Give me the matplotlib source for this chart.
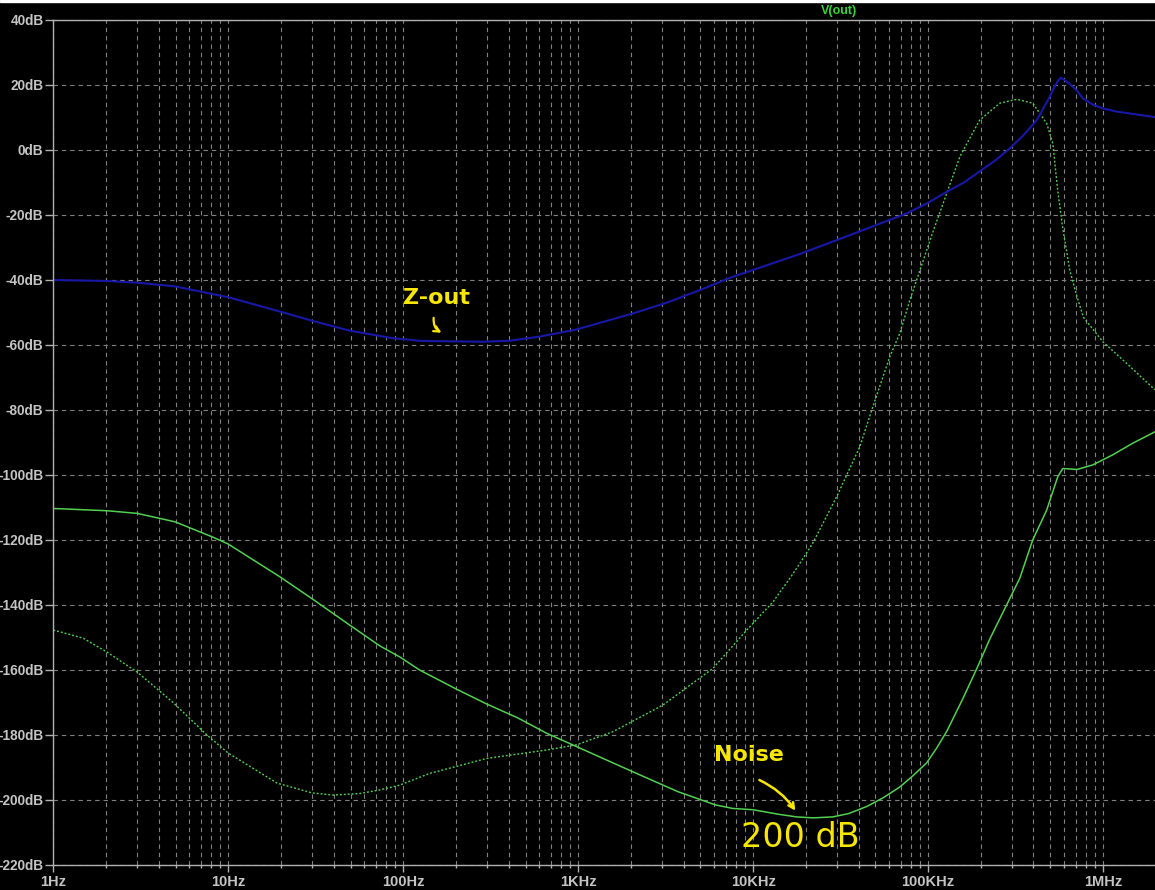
import numpy as np
import matplotlib.pyplot as plt
from matplotlib.patches import Rectangle

# Z-out trace (blue)
zout_f = [1, 2, 3, 5, 10, 19.7, 30, 49.5, 87, 124, 148, 285, 406, 604, 982,
          2.05e3, 3.2e3, 4.96e3, 7.65e3, 1e4, 1.85e4, 3.57e4, 7.55e4, 9.96e4,
          1.21e5, 1.6e5, 1.97e5, 2.45e5, 2.93e5, 3.5e5, 4.18e5, 4.96e5, 5.2e5,
          5.5e5, 5.73e5, 6e5, 6.45e5, 7.08e5, 7.66e5, 8.7e5, 9.97e5, 1.2e6,
          1.48e6, 1.98e6]
zout_db = [-40, -40.3, -40.8, -42, -45.3, -49.7, -52.5, -55.6, -57.9, -58.7,
           -58.8, -59, -58.7, -57.4, -55.2, -50.3, -47, -43.1, -39, -36.9,
           -32, -26.2, -19.5, -16.3, -13.6, -10, -6.6, -3, 0.5, 4.5, 9.2, 16.4,
           18.8, 21.2, 22.2, 21.6, 20.3, 18.3, 15.9, 14, 12.8, 11.8, 11.1, 10.1]

# noise trace (green, solid)
noise_f = [1, 2.03, 3.01, 4.96, 8.07, 9.96, 19.7, 30, 49.5, 73.6, 95.7, 124,
           200, 301, 450, 662, 982, 2.05e3, 3.7e3, 6.07e3, 7.65e3, 1e4, 1.4e4,
           1.77e4, 2.2e4, 2.85e4, 3.5e4, 4.46e4, 5.5e4, 6.89e4, 8.2e4, 9.8e4,
           1.12e5, 1.28e5, 1.58e5, 1.9e5, 2.25e5, 2.75e5, 3.34e5, 3.96e5,
           4.76e5, 5.51e5, 5.88e5, 6.3e5, 7.08e5, 8.73e5, 1.135e6, 1.48e6,
           1.98e6]
noise_db = [-110.3, -111, -111.8, -114.4, -119, -121.2, -131.3, -138, -146.2,
            -152.6, -156, -160, -165.8, -170.5, -174.7, -179.5, -183.6, -191.3,
            -197.4, -201.5, -202.6, -203, -204.4, -205.2, -205.5, -205.2,
            -204.2, -202, -199.4, -196, -192.5, -188.6, -184, -178.8, -168.8,
            -159.5, -150.5, -141, -131.8, -120, -110.8, -100.5, -98, -98.1,
            -98.3, -96.9, -93.8, -90.2, -86.7]

# V(out) trace (green, dotted)
vout_f = [1, 1.48, 2.03, 3.01, 4.84, 7.55, 9.96, 19, 30, 39.7, 56.6, 73.6,
          95.7, 142, 301, 662, 982, 1578, 3048, 5.89e3, 9.2e3, 1.3e4, 1.62e4,
          1.85e4, 2.19e4, 3e4, 4.07e4, 4.83e4, 6.04e4, 6.89e4, 7.86e4, 1.06e5,
          1.28e5, 1.52e5, 1.97e5, 2.57e5, 3.21e5, 3.96e5, 4.76e5, 5.16e5,
          5.5e5, 5.88e5, 6.45e5, 7.08e5, 7.73e5, 9.97e5, 1.36e6, 1.98e6]
vout_db = [-147.7, -150.2, -154.5, -160.6, -170, -180, -185.5, -194.8, -197.8,
           -198.5, -198, -196.9, -195.4, -191.8, -187.2, -184.6, -183, -179,
           -170.8, -159.5, -147.7, -139, -131.8, -127.2, -121, -106.7, -91.3,
           -79, -63.6, -56.4, -46.2, -25.5, -13.2, -2, 9.2, 14.4, 15.6, 14.4,
           8.2, 2, -12.3, -24, -37, -45, -51.5, -59, -65.6, -73.8]

y_ticks = list(range(-220, 41, 20))
x_ticks = [1, 10, 100, 1e3, 1e4, 1e5, 1e6]
x_labels = ['1Hz', '10Hz', '100Hz', '1KHz', '10KHz', '100KHz', '1MHz']

fig = plt.figure(figsize=(11.55, 8.9), dpi=100, facecolor='black')
ax = fig.add_axes([53.3 / 1155, 25 / 890, 1 - 53.3 / 1155, 845 / 890])
ax.set_facecolor('black')
fig.patches.append(Rectangle((0, 1 - 2 / 890), 1, 2 / 890, transform=fig.transFigure, color='white'))

ax.set_xscale('log')
ax.set_xlim(1, 1.98e6)
ax.set_ylim(-220, 40)

grid_col = '#808080'
ax.grid(True, which='both', axis='x', color=grid_col, linestyle=(0, (4, 3.5)), linewidth=0.8)
ax.grid(True, which='major', axis='y', color=grid_col, linestyle=(0, (4, 3.5)), linewidth=0.8)

ax.plot(vout_f, vout_db, color='#52d052', linewidth=1.0, linestyle=(0, (1.4, 1.4)))
ax.plot(noise_f, noise_db, color='#52d052', linewidth=1.1)
ax.plot(zout_f, zout_db, color='#1818a8', linewidth=1.5)

ax.set_yticks(y_ticks)
ax.set_yticklabels(['%ddB' % v for v in y_ticks])
ax.set_xticks(x_ticks)
ax.set_xticklabels(x_labels)

lab_col = '#c4c4c4'
for s in ['left', 'top', 'bottom']:
    ax.spines[s].set_color('#b0b0b0')
    ax.spines[s].set_linewidth(1.0)
ax.spines['right'].set_visible(False)
ax.tick_params(axis='y', which='major', colors='#b0b0b0', labelcolor=lab_col, length=6, width=1, pad=1)
ax.tick_params(axis='x', which='major', colors='#b0b0b0', labelcolor=lab_col, length=5, width=1, pad=2)
ax.tick_params(axis='x', which='minor', colors='#b0b0b0', length=2.5, width=1)
for t in ax.get_yticklabels():
    t.set_fontfamily('Liberation Sans')
    t.set_fontweight('bold')
    t.set_fontsize(9.8)
for t in ax.get_xticklabels():
    t.set_fontfamily('Liberation Sans')
    t.set_fontweight('bold')
    t.set_fontsize(10.5)

fig.text(839 / 1155, 1 - 11 / 890, 'V(out)', color='#3ad23a', fontsize=9, fontweight='bold',
         family='Liberation Sans', ha='center', va='center')

yel = '#f7e600'
ax.text(154, -45.4, 'Z-out', color=yel, fontsize=16, fontweight='bold', ha='center', va='center')
ax.annotate('', xy=(171, -56.6), xytext=(150, -50.8),
            arrowprops=dict(arrowstyle='->', color=yel, lw=1.6, connectionstyle='arc3,rad=0.4'))
ax.text(9450, -186.2, 'Noise', color=yel, fontsize=16, fontweight='bold', ha='center', va='center')
ax.annotate('', xy=(17800, -204), xytext=(10500, -193.5),
            arrowprops=dict(arrowstyle='->', color=yel, lw=1.8, connectionstyle='arc3,rad=-0.15'))
ax.text(18700, -211.4, '200 dB', color=yel, fontsize=24, ha='center', va='center')

fig.savefig('out.png', dpi=100, facecolor='black')
